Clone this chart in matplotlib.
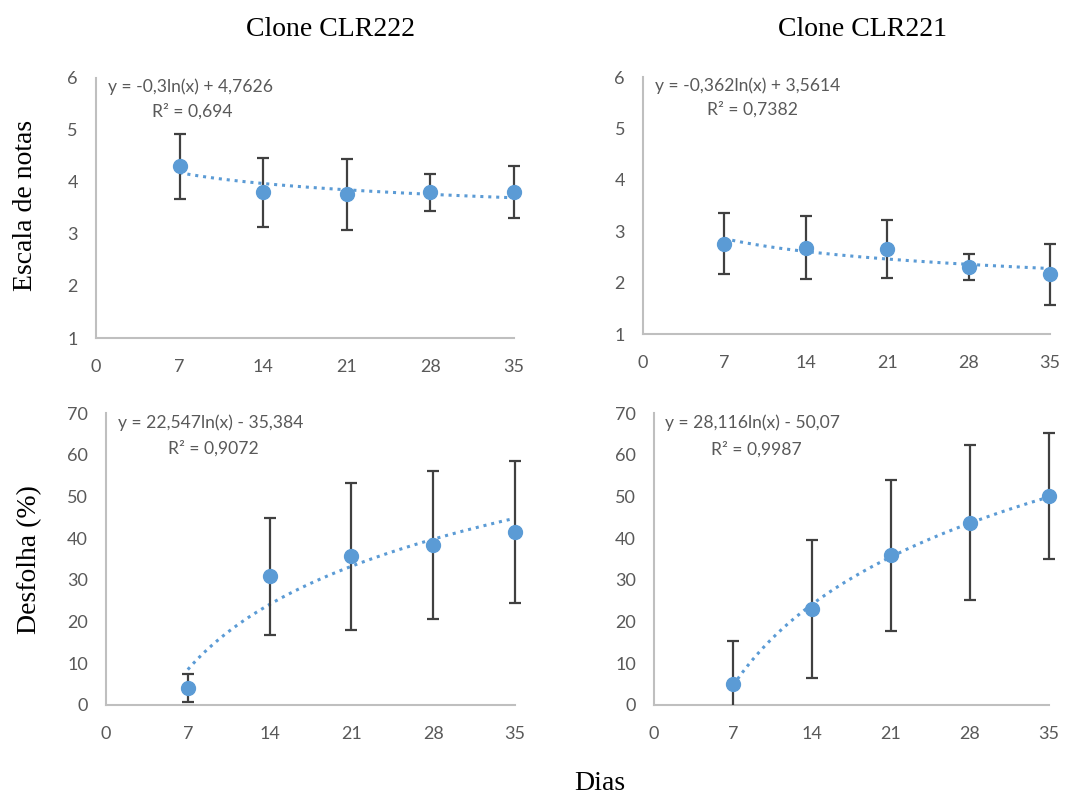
"""
recreate: nota / desfolha over dias for two clones, log trendlines
"""
import numpy as np
import matplotlib
matplotlib.use('Agg')
import matplotlib.pyplot as plt
from matplotlib.patches import Rectangle

dias = [7, 14, 21, 28, 35]

# nota (escala) per clone, with error bar half widths
nota_222 = [4.30, 3.80, 3.76, 3.80, 3.80]
nota_222_err = [0.63, 0.66, 0.68, 0.35, 0.50]
nota_221 = [2.76, 2.68, 2.65, 2.31, 2.16]
nota_221_err = [0.60, 0.61, 0.56, 0.25, 0.60]

# desfolha (%) per clone
desf_222 = [4.1, 30.9, 35.7, 38.3, 41.5]
desf_222_err = [3.4, 14.0, 17.6, 17.8, 17.0]
desf_221 = [5.1, 23.0, 35.9, 43.7, 50.1]
desf_221_err = [10.3, 16.5, 18.1, 18.6, 15.0]

# trendline coefficients as printed on the chart: y = a*ln(x) + b
coef_nota_222 = (-0.3, 4.7626)
coef_nota_221 = (-0.362, 3.5614)
coef_desf_222 = (22.547, -35.384)
coef_desf_221 = (28.116, -50.07)

eq_nota_222 = ['y = -0,3ln(x) + 4,7626', 'R² = 0,694']
eq_nota_221 = ['y = -0,362ln(x) + 3,5614', 'R² = 0,7382']
eq_desf_222 = ['y = 22,547ln(x) - 35,384', 'R² = 0,9072']
eq_desf_221 = ['y = 28,116ln(x) - 50,07', 'R² = 0,9987']

blue = '#5B9BD5'
grey_txt = '#595959'
grey_axis = '#BFBFBF'
serif = ['Liberation Serif', 'DejaVu Serif']
sans = ['Lato', 'DejaVu Sans']

fig = plt.figure(figsize=(10.65, 7.94), dpi=100)

#axes boxes in figure fraction: left, bottom, width, height
boxes = [
	[0.0901, 0.5743, 0.3925, 0.3275],
	[0.6038, 0.5793, 0.3822, 0.3237],
	[0.0995, 0.1121, 0.3841, 0.3677],
	[0.6141, 0.1121, 0.3709, 0.3677],
]
panels = [
	(nota_222, nota_222_err, coef_nota_222, eq_nota_222, (1, 6), np.arange(1, 7), (0.134, 0.873)),
	(nota_221, nota_221_err, coef_nota_221, eq_nota_221, (1, 6), np.arange(1, 7), (0.157, 0.872)),
	(desf_222, desf_222_err, coef_desf_222, eq_desf_222, (0, 70), np.arange(0, 71, 10), (0.152, 0.880)),
	(desf_221, desf_221_err, coef_desf_221, eq_desf_221, (0, 70), np.arange(0, 71, 10), (0.144, 0.877)),
]

for box, (vals, errs, coef, eq, ylim, yticks, r2pos) in zip(boxes, panels):
	ax = fig.add_axes(box)
	xs = np.linspace(dias[0], dias[-1], 200)
	a, b = coef
	ax.plot(xs, a*np.log(xs) + b, linestyle=(0, (1, 1.6)), color=blue, lw=2.2, zorder=2)
	eb = ax.errorbar(dias, vals, yerr=errs, fmt='none', ecolor='#404040', elinewidth=1.6,
		capsize=4, capthick=1.6, zorder=3)
	#clip bars at the bottom of the axis but let the one at x=35 show in full
	clip = Rectangle((-0.05, 0), 1.1, 1.2, transform=ax.transAxes, visible=False)
	ax.add_patch(clip)
	for art in list(eb.lines[1]) + list(eb.lines[2]):
		art.set_clip_path(clip)
	ax.plot(dias, vals, 'o', color=blue, markersize=10, zorder=4, clip_on=False)
	ax.set_xlim(0, 35)
	ax.set_ylim(*ylim)
	ax.set_xticks([0, 7, 14, 21, 28, 35])
	ax.set_yticks(yticks)
	for s in ['top', 'right']:
		ax.spines[s].set_visible(False)
	for s in ['left', 'bottom']:
		ax.spines[s].set_color(grey_axis)
		ax.spines[s].set_linewidth(1.5)
	ax.tick_params(length=0, labelsize=13, labelcolor=grey_txt)
	ax.tick_params(axis='x', pad=15)
	ax.tick_params(axis='y', pad=13)
	for lab in ax.get_xticklabels() + ax.get_yticklabels():
		lab.set_family(sans)
	ax.text(0.029, 0.968, eq[0], transform=ax.transAxes, fontsize=12.6, color=grey_txt,
		family=sans, ha='left', va='center')
	ax.text(r2pos[0], r2pos[1], eq[1], transform=ax.transAxes, fontsize=12.6, color=grey_txt,
		family=sans, ha='left', va='center')

fig.text(330/1065, 1-29/794, 'Clone CLR222', fontsize=20, family=serif, ha='center', va='center')
fig.text(862/1065, 1-29/794, 'Clone CLR221', fontsize=20, family=serif, ha='center', va='center')
fig.text(26/1065, 1-205/794, 'Escala de notas', fontsize=20, family=serif, ha='center', va='center', rotation=90)
fig.text(30/1065, 1-560/794, 'Desfolha (%)', fontsize=20, family=serif, ha='center', va='center', rotation=90)
fig.text(600/1065, 1-783/794, 'Dias', fontsize=20, family=serif, ha='center', va='center')

fig.savefig('out.png', dpi=100)
